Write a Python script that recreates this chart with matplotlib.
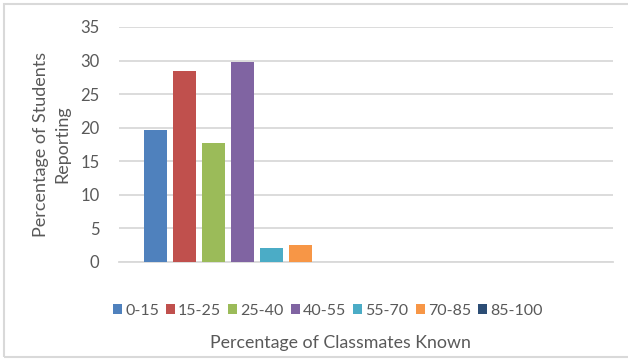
import matplotlib.pyplot as plt
import matplotlib.patches as mpatches
import numpy as np

# Share of students by percentage of classmates known
bins = ['0-15', '15-25', '25-40', '40-55', '55-70', '70-85', '85-100']
values = [19.7, 28.5, 17.7, 29.8, 2.1, 2.5, 0.0]
colors = ['#4F81BD', '#C0504D', '#9BBB59', '#8064A2', '#4BACC6', '#F79646', '#2C4D75']

plt.rcParams['font.family'] = ['Lato', 'DejaVu Sans']
text_color = '#595959'

fig = plt.figure(figsize=(6.28, 3.59), dpi=100)
ax = fig.add_axes([0.1895, 0.2702, 0.7865, 0.6546])

# one cluster in the first of two category slots
step = 0.1174
width = 0.093
offsets = (np.arange(len(bins)) - (len(bins) - 1) / 2) * step
for off, val, col, lab in zip(offsets, values, colors, bins):
    ax.bar(off, val, width=width, color=col, label=lab, zorder=3)

ax.set_xlim(-0.5, 1.5)
ax.set_ylim(0, 35)
ax.set_yticks(range(0, 36, 5))
ax.set_xticks([])
ax.yaxis.grid(True, color='#D9D9D9', linewidth=1.3, zorder=0)
for s in ['top', 'right', 'left']:
    ax.spines[s].set_visible(False)
ax.spines['bottom'].set_color('#D9D9D9')
ax.spines['bottom'].set_linewidth(1.3)
ax.tick_params(axis='y', length=0, pad=14, labelsize=12, labelcolor=text_color)

ax.set_ylabel('Percentage of Students\nReporting', fontsize=13, color=text_color,
              labelpad=7, linespacing=1.45)
fig.text(0.542, 0.045, 'Percentage of Classmates Known', ha='center', va='center',
         fontsize=12.8, color=text_color)

fig.legend(loc='center', bbox_to_anchor=(0.522, 0.135), ncol=7, frameon=False,
           fontsize=11.5, labelcolor=text_color, handlelength=0.55, handleheight=0.55,
           handletextpad=0.2, columnspacing=0.45)

# light chart border
fig.patches.append(mpatches.Rectangle((0.006, 0.006), 1.1, 0.983, transform=fig.transFigure,
                                      fill=False, edgecolor='#D9D9D9', linewidth=1.5))

fig.savefig('out.png', dpi=100)
